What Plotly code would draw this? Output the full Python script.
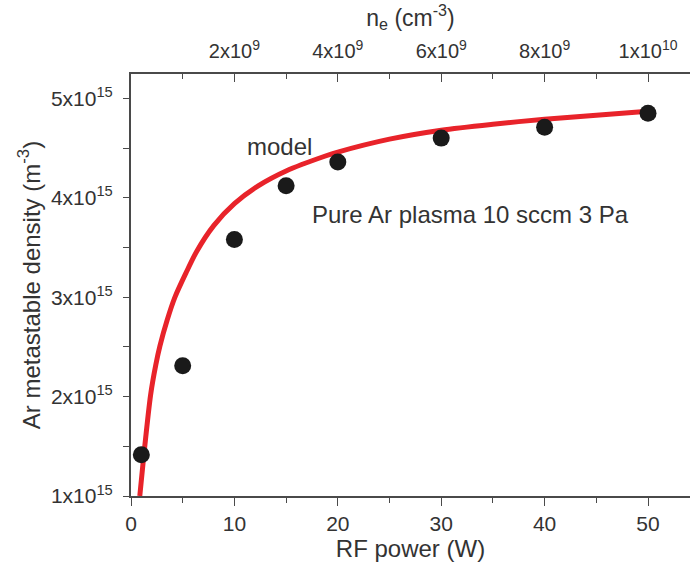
import plotly.graph_objects as go

# measured data
power = [1, 5, 10, 15, 20, 30, 40, 50]
density = [1.415e15, 2.31e15, 3.58e15, 4.12e15, 4.36e15, 4.60e15, 4.71e15, 4.85e15]

# model curve
model_power = [0.85, 1.25, 1.9, 2.4, 2.8, 3.5, 4.25, 5.3, 6.35, 8, 10, 12.3, 15, 18.8, 20, 25, 30, 35, 40, 45, 50]
model_density = [1.0e15, 1.42e15, 2.02e15, 2.32e15, 2.51e15, 2.77e15, 3.0e15, 3.24e15, 3.46e15, 3.72e15,
                 3.94e15, 4.12e15, 4.27e15, 4.42e15, 4.46e15, 4.59e15, 4.68e15, 4.74e15, 4.79e15, 4.83e15, 4.87e15]

y_tickvals = [1e15, 2e15, 3e15, 4e15, 5e15]
y_ticktext = ["1x10<sup>15</sup>", "2x10<sup>15</sup>", "3x10<sup>15</sup>", "4x10<sup>15</sup>", "5x10<sup>15</sup>"]
x_tickvals = [0, 10, 20, 30, 40, 50]
top_tickvals = [2e9, 4e9, 6e9, 8e9, 1e10]
top_ticktext = ["2x10<sup>9</sup>", "4x10<sup>9</sup>", "6x10<sup>9</sup>", "8x10<sup>9</sup>", "1x10<sup>10</sup>"]

x_max = 54.06
ne_per_watt = 2e8

FONT = "Liberation Sans, Arial, sans-serif"
TXT = "#333333"
AX = "#4a4a4a"

fig = go.Figure()
fig.add_trace(go.Scatter(x=model_power, y=model_density, mode="lines",
                         line=dict(color="#e8232a", width=5, shape="spline", smoothing=0.8),
                         showlegend=False, hoverinfo="skip"))
fig.add_trace(go.Scatter(x=power, y=density, mode="markers",
                         marker=dict(color="#1a1a1a", size=17),
                         showlegend=False))
# invisible trace for top axis
fig.add_trace(go.Scatter(x=[0, x_max * ne_per_watt], y=[None, None], xaxis="x2",
                         mode="markers", showlegend=False, hoverinfo="skip"))

fig.update_layout(
    width=690, height=572,
    margin=dict(l=131, r=0, t=74, b=76, autoexpand=False),
    paper_bgcolor="white", plot_bgcolor="white",
    font=dict(family=FONT, color=TXT, size=20),
    xaxis=dict(range=[0, x_max], tickvals=x_tickvals, ticks="outside", ticklen=8,
               tickwidth=1.3, tickcolor=AX, showline=True, linecolor=AX, linewidth=2,
               showgrid=False, zeroline=False, tickfont=dict(size=21, color=TXT), automargin=False,
               minor=dict(dtick=5, tick0=0, ticks="outside", ticklen=5, tickcolor=AX, tickwidth=1.3),
               title=dict(text="RF power (W)", font=dict(size=24, color=TXT), standoff=4)),
    xaxis2=dict(range=[0, x_max * ne_per_watt], overlaying="x", side="top",
                tickvals=top_tickvals, ticktext=top_ticktext, ticks="inside", ticklen=8,
                tickwidth=1.3, tickcolor=AX, showline=True, linecolor=AX, linewidth=2,
                showgrid=False, zeroline=False, tickfont=dict(size=20, color=TXT), automargin=False,
                ticklabelstandoff=6,
                minor=dict(dtick=1e9, tick0=0, ticks="inside", ticklen=5, tickcolor=AX, tickwidth=1.3),
                title=dict(text="n<sub>e</sub> (cm<sup>-3</sup>)", font=dict(size=23, color=TXT), standoff=4)),
    yaxis=dict(range=[1e15, 5.245e15], tickvals=y_tickvals, ticktext=y_ticktext,
               ticks="outside", ticklen=6, tickwidth=1.3, tickcolor=AX,
               showline=True, linecolor=AX, linewidth=2, showgrid=False, zeroline=False,
               tickfont=dict(size=21, color=TXT), automargin=False, ticklabelstandoff=6,
               minor=dict(dtick=5e14, tick0=0, ticks="outside", ticklen=6, tickcolor=AX, tickwidth=1.3),
               title=dict(text="Ar metastable density (m<sup>-3</sup>)", font=dict(size=24, color=TXT), standoff=4)),
    annotations=[
        dict(text="model", x=14.4, y=4.52e15, xref="x", yref="y", showarrow=False,
             font=dict(size=24, color=TXT)),
        dict(text="Pure Ar plasma 10 sccm 3 Pa", x=32.8, y=3.83e15, xref="x", yref="y",
             showarrow=False, font=dict(size=24, color=TXT)),
    ],
)

fig.write_html("out.html", config={"displayModeBar": False},
               post_script="document.body.style.margin='0';document.body.style.overflow='hidden';")
